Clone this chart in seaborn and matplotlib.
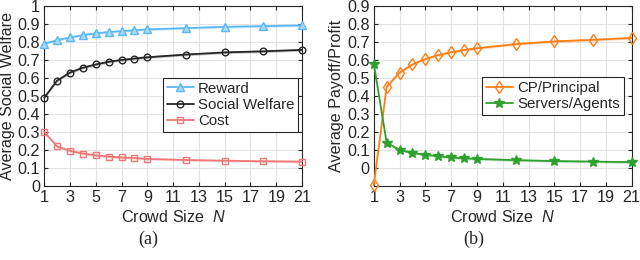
import numpy as np
import pandas as pd
import seaborn as sns
import matplotlib.pyplot as plt

crowd = [1, 2, 3, 4, 5, 6, 7, 8, 9, 12, 15, 18, 21]

reward = [0.79, 0.81, 0.825, 0.838, 0.848, 0.855, 0.860, 0.865, 0.870, 0.877, 0.884, 0.888, 0.892]
welfare = [0.49, 0.585, 0.630, 0.657, 0.675, 0.690, 0.700, 0.708, 0.715, 0.730, 0.742, 0.748, 0.756]
cost = [0.30, 0.22, 0.195, 0.180, 0.170, 0.163, 0.158, 0.155, 0.150, 0.144, 0.140, 0.137, 0.135]

principal = [-0.095, 0.45, 0.53, 0.575, 0.605, 0.627, 0.643, 0.655, 0.665, 0.688, 0.703, 0.712, 0.722]
agents = [0.58, 0.14, 0.10, 0.083, 0.073, 0.065, 0.058, 0.053, 0.050, 0.043, 0.038, 0.035, 0.032]

sns.set_style("whitegrid")
plt.rcParams['font.family'] = ['Liberation Sans', 'DejaVu Sans']
plt.rcParams['mathtext.fontset'] = 'custom'
plt.rcParams['mathtext.it'] = 'Liberation Sans:italic'
plt.rcParams['mathtext.rm'] = 'Liberation Sans'

fig = plt.figure(figsize=(6.4, 2.6), dpi=100)
ax1 = fig.add_axes([0.069, 0.285, 0.403, 0.692])
ax2 = fig.add_axes([0.584, 0.285, 0.403, 0.692])

fs = 11.6


def draw(ax, y, label, color, marker, face, ms):
    df = pd.DataFrame({'N': crowd, 'v': y})
    yy = np.array(y)
    # light band round each curve
    ax.fill_between(crowd, yy - 0.007, yy + 0.007, color=color, alpha=0.25, lw=0)
    sns.lineplot(data=df, x='N', y='v', ax=ax, color=color, marker=marker, markersize=ms,
                 markerfacecolor=face, markeredgecolor=color, markeredgewidth=1.0,
                 linewidth=1.3, label=label, clip_on=False, zorder=5)


draw(ax1, reward, 'Reward', '#5cb8f5', '^', '#a9d9fa', 5.5)
draw(ax1, welfare, 'Social Welfare', '#262626', 'o', 'none', 4.8)
draw(ax1, cost, 'Cost', '#f07878', 's', 'none', 4.5)

draw(ax2, principal, 'CP/Principal', '#ff7f15', 'd', 'none', 6)
draw(ax2, agents, 'Servers/Agents', '#2ea02e', '*', '#2ea02e', 7.5)

for ax in (ax1, ax2):
    ax.set_xlim(1, 21)
    ax.set_xticks(range(1, 22, 2))
    ax.set_xlabel('Crowd Size  $N$', fontsize=fs, color='#262626', labelpad=3)
    ax.tick_params(direction='in', length=3, labelsize=fs, colors='#262626', pad=3,
                   top=True, right=True, bottom=True, left=True)
    ax.grid(True, color='#e3e3e3', linewidth=0.8)
    for s in ax.spines.values():
        s.set_visible(True)
        s.set_color('#262626')
        s.set_linewidth(0.8)

ax1.set_ylim(0, 1)
ax1.set_yticks(np.arange(0, 1.01, 0.1))
ax1.set_yticklabels(['0', '0.1', '0.2', '0.3', '0.4', '0.5', '0.6', '0.7', '0.8', '0.9', '1'])
ax1.set_ylabel('Average Social Welfare', fontsize=fs, color='#262626', labelpad=2)

ax2.set_ylim(-0.1, 0.9)
ax2.set_yticks(np.arange(0, 0.91, 0.1))
ax2.set_yticklabels(['0', '0.1', '0.2', '0.3', '0.4', '0.5', '0.6', '0.7', '0.8', '0.9'])
ax2.set_ylabel('Average Payoff/Profit', fontsize=fs, color='#262626', labelpad=2)

for ax, anchor in ((ax1, (0.46, 0.60)), (ax2, (0.42, 0.605))):
    leg = ax.legend(loc='upper left', bbox_to_anchor=anchor, fontsize=10.8, frameon=True,
                    fancybox=False, framealpha=1, edgecolor='#262626', borderpad=0.25,
                    handlelength=1.8, handletextpad=0.3, labelspacing=0.15, borderaxespad=0)
    leg.get_frame().set_linewidth(0.8)
    leg.set_zorder(10)

fig.text(0.231, 0.06, '(a)', fontsize=13, family='Liberation Serif', ha='center')
fig.text(0.741, 0.06, '(b)', fontsize=13, family='Liberation Serif', ha='center')

fig.savefig('out.png', dpi=100)
